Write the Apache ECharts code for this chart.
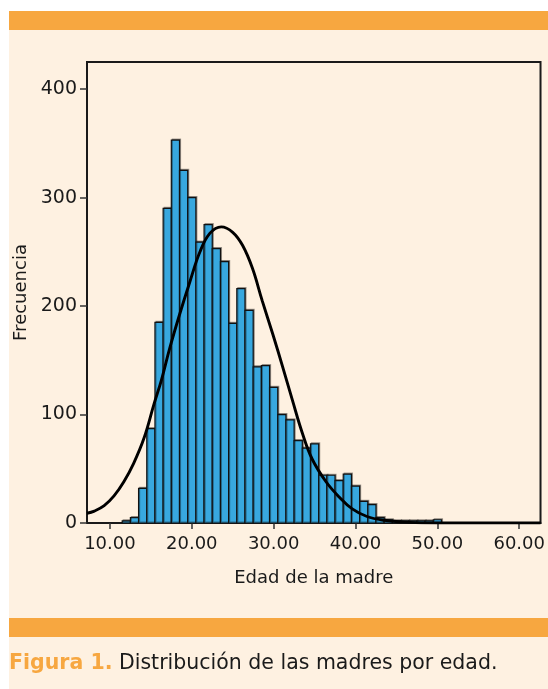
<!DOCTYPE html>
<html>
<head>
<meta charset="utf-8">
<script src="https://cdn.jsdelivr.net/npm/echarts@6.0.0/dist/echarts.min.js"></script>
<style>
  html, body { margin: 0; padding: 0; background: #ffffff; }
  #chart { width: 548px; height: 689px; }
</style>
</head>
<body>
<div id="chart"></div>
<script>
// histogram: age of mother (1-year bins, centred on the whole year)
var ages = [12, 13, 14, 15, 16, 17, 18, 19, 20, 21, 22, 23, 24, 25, 26, 27, 28, 29, 30,
            31, 32, 33, 34, 35, 36, 37, 38, 39, 40, 41, 42, 43, 44, 45, 46, 47, 48, 49, 50];
var counts = [2, 5, 32, 87, 185, 290, 353, 325, 300, 259, 275, 253, 241, 184, 216, 196, 144, 145, 125,
              100, 95, 76, 69, 73, 44, 44, 39, 45, 34, 20, 17, 5, 3, 2, 2, 2, 2, 2, 3];

// normal curve, points
var curveX = [7.2, 8.1, 9.3, 10.5, 11.7, 12.9, 14.2, 15.4, 16.3, 17.3, 18.5, 19.75, 21, 22.2, 23.6,
              25, 26.2, 27.4, 28.6, 29.9, 31.1, 32.3, 33.5, 34.7, 36.4, 38, 39.6, 41.4, 43.5, 46, 50, 55, 62.6];
var curveY = [9, 11, 16, 25, 38, 55, 79, 110, 132, 161, 192, 222, 250, 267, 273,
              268, 256, 235, 205, 174, 144, 113, 83, 59, 38, 24, 13, 6, 2.5, 0.8, 0, 0, 0];

var xTicks = [10, 20, 30, 40, 50, 60];
var yTicks = [0, 100, 200, 300, 400];

var cream = '#fef1e1';
var orange = '#f7a740';
var ink = '#1a1a1a';
var font = 'DejaVu Sans';

var chart = echarts.init(document.getElementById('chart'));

function renderBar(params, api) {
    var age = api.value(0);
    var n = api.value(1);
    var p0 = api.coord([age - 0.5, n]);
    var p1 = api.coord([age + 0.5, 0]);
    return {
        type: 'rect',
        shape: { x: p0[0], y: p0[1], width: p1[0] - p0[0], height: p1[1] - p0[1] },
        style: {
            fill: '#38a8df',
            stroke: '#111',
            lineWidth: 1.2,
            shadowColor: 'rgba(0,0,0,0.35)',
            shadowOffsetX: 1,
            shadowOffsetY: -1
        }
    };
}

var barData = ages.map(function (a, i) { return [a, counts[i]]; });
var curveData = curveX.map(function (x, i) { return [x, curveY[i]]; });

var option = {
    backgroundColor: '#ffffff',
    animation: false,
    textStyle: { fontFamily: font },
    graphic: [
        // page panel and the two orange rules
        { type: 'rect', z: -10, shape: { x: 9, y: 11, width: 539, height: 678 }, style: { fill: cream } },
        { type: 'rect', z: -9, shape: { x: 9, y: 11, width: 539, height: 19 }, style: { fill: orange } },
        { type: 'rect', z: -9, shape: { x: 9, y: 618, width: 539, height: 19 }, style: { fill: orange } },
        {
            type: 'text', left: 9, top: 653,
            style: {
                text: '{b|Figura 1.} Distribución de las madres por edad.',
                font: '20.5px "DejaVu Sans"',
                fill: ink,
                rich: {
                    b: { fill: orange, fontWeight: 'bold', fontSize: 20.5, fontFamily: font }
                }
            }
        }
    ],
    grid: {
        left: 87, right: 5, top: 62, bottom: 166,
        show: true,
        borderColor: ink,
        borderWidth: 2,
        backgroundColor: 'transparent'
    },
    xAxis: {
        type: 'value',
        min: 7.2,
        max: 62.6,
        name: 'Edad de la madre',
        nameLocation: 'middle',
        nameGap: 46,
        nameTextStyle: { fontSize: 18, color: ink, fontFamily: font },
        axisLine: { show: true, onZero: false, lineStyle: { color: ink, width: 2 } },
        axisTick: { show: true, length: 6, customValues: xTicks, lineStyle: { color: '#333', width: 1.5 } },
        axisLabel: {
            customValues: xTicks,
            margin: 12,
            fontSize: 18,
            color: ink,
            fontFamily: font,
            formatter: function (v) { return v.toFixed(2); }
        },
        splitLine: { show: false }
    },
    yAxis: {
        type: 'value',
        min: 0,
        max: 425,
        name: 'Frecuencia',
        nameLocation: 'middle',
        nameGap: 57,
        nameRotate: 90,
        nameTextStyle: { fontSize: 18, color: ink, fontFamily: font },
        axisLine: { show: true, lineStyle: { color: ink, width: 2 } },
        axisTick: { show: true, length: 7, customValues: yTicks, lineStyle: { color: '#333', width: 1.5 } },
        axisLabel: {
            customValues: yTicks,
            margin: 10,
            fontSize: 19,
            color: ink,
            fontFamily: font
        },
        splitLine: { show: false }
    },
    series: [
        {
            name: 'Frecuencia',
            type: 'custom',
            renderItem: renderBar,
            encode: { x: 0, y: 1 },
            data: barData,
            z: 2
        },
        {
            name: 'Normal',
            type: 'line',
            data: curveData,
            smooth: 0.4,
            showSymbol: false,
            lineStyle: { color: '#000', width: 2.9 },
            z: 3
        }
    ]
};

chart.setOption(option);
</script>
</body>
</html>
